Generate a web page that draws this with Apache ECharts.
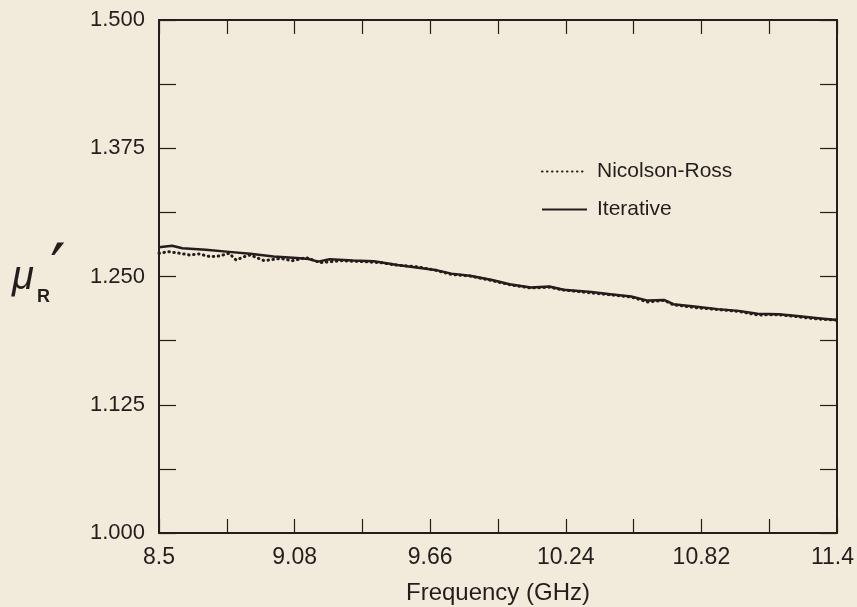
<!DOCTYPE html>
<html>
<head>
<meta charset="utf-8">
<script src="https://cdn.jsdelivr.net/npm/echarts@6/dist/echarts.min.js"></script>
<style>
html,body{margin:0;padding:0;background:#f2eadb;}
#chart{width:857px;height:607px;}
</style>
</head>
<body>
<div id="chart"></div>
<script>
// ---- data ----
var iterFreq = [8.50, 8.556, 8.60, 8.70, 8.80, 8.89, 8.99, 9.09, 9.14, 9.18, 9.23, 9.33, 9.42, 9.52, 9.60, 9.69, 9.75, 9.83, 9.92, 10.00, 10.09, 10.17, 10.23, 10.35, 10.43, 10.52, 10.59, 10.66, 10.70, 10.80, 10.89, 10.98, 11.06, 11.15, 11.23, 11.32, 11.40];
var iterValues = [1.2785, 1.2800, 1.2775, 1.2760, 1.2740, 1.2722, 1.2695, 1.2680, 1.2670, 1.2645, 1.2668, 1.2655, 1.2648, 1.2612, 1.2588, 1.2560, 1.2528, 1.2508, 1.2468, 1.2425, 1.2392, 1.2402, 1.2370, 1.2348, 1.2328, 1.2305, 1.2265, 1.2272, 1.2230, 1.2206, 1.2182, 1.2165, 1.2136, 1.2133, 1.2115, 1.2094, 1.2075];

var nrFreq = [8.50, 8.54, 8.59, 8.63, 8.67, 8.72, 8.76, 8.80, 8.83, 8.86, 8.89, 8.95, 9.02, 9.07, 9.13, 9.19, 9.28, 9.37, 9.45, 9.51, 9.60, 9.68, 9.75, 9.83, 9.92, 10.01, 10.09, 10.17, 10.23, 10.35, 10.43, 10.52, 10.59, 10.66, 10.70, 10.80, 10.89, 10.98, 11.06, 11.15, 11.23, 11.32, 11.40];
var nrValues = [1.2726, 1.2742, 1.2726, 1.2710, 1.2720, 1.2693, 1.2700, 1.2726, 1.2660, 1.2690, 1.2710, 1.2654, 1.2677, 1.2654, 1.2684, 1.2635, 1.2654, 1.2645, 1.2635, 1.2612, 1.2596, 1.2563, 1.2520, 1.2505, 1.2462, 1.2415, 1.2388, 1.2395, 1.2368, 1.2340, 1.2322, 1.2300, 1.2252, 1.2268, 1.2225, 1.2195, 1.2178, 1.2160, 1.2125, 1.2128, 1.2108, 1.2085, 1.2075];

var xTickLabels = [8.5, 9.08, 9.66, 10.24, 10.82, 11.4];
var xTickMarks = [8.5, 8.79, 9.08, 9.37, 9.66, 9.95, 10.24, 10.53, 10.82, 11.11, 11.4];
var yMin = 1.0, yMax = 1.5, yStep = 0.125;
var seriesNames = ['Nicolson-Ross', 'Iterative'];

// ---- chart ----
var ink = '#231e1b';
var font = 'Liberation Sans, Arial, Helvetica, sans-serif';
function pairs(xs, ys){ return xs.map(function(x,i){ return [x, ys[i]]; }); }

var chart = echarts.init(document.getElementById('chart'), null, {renderer:'canvas'});

var baseX = {
  type:'value', min:8.5, max:11.4,
  axisLine:{show:true, lineStyle:{color:ink, width:2}},
  axisTick:{show:true, inside:true, length:14, customValues:xTickMarks, lineStyle:{color:ink, width:1.2}},
  splitLine:{show:false}
};
var baseY = {
  type:'value', min:yMin, max:yMax, interval:yStep,
  axisLine:{show:true, lineStyle:{color:ink, width:2}},
  axisTick:{show:true, inside:true, length:17, lineStyle:{color:ink, width:1.2}},
  minorTick:{show:true, splitNumber:2, length:17, lineStyle:{color:ink, width:1.2}},
  splitLine:{show:false}, minorSplitLine:{show:false}
};

var lastX = xTickLabels[xTickLabels.length - 1];

var option = {
  backgroundColor:'#f2eadb',
  animation:false,
  grid:{left:159, right:20, top:20, bottom:74, containLabel:false, outerBoundsMode:'none'},
  xAxis:[
    Object.assign({}, baseX, {
      position:'bottom',
      axisLabel:{show:true, customValues:xTickLabels, margin:13, color:ink, fontSize:23, fontFamily:font,
        formatter:function(v){ return Math.abs(v - lastX) < 1e-9 ? '{e|' + v + '}' : String(v); },
        rich:{e:{fontSize:23, fontFamily:font, color:ink, padding:[0,9,0,0]}}},
      name:'Frequency (GHz)', nameLocation:'middle', nameGap:48,
      nameTextStyle:{color:ink, fontSize:24, fontFamily:font}
    }),
    Object.assign({}, baseX, {position:'top', axisLabel:{show:false}})
  ],
  yAxis:[
    Object.assign({}, baseY, {
      position:'left',
      axisLabel:{show:true, margin:14, color:ink, fontSize:22, fontFamily:font,
        formatter:function(v){ return v.toFixed(3); }}
    }),
    Object.assign({}, baseY, {position:'right', axisLabel:{show:false}})
  ],
  legend:{
    orient:'vertical', left:536, top:156, itemWidth:45, itemHeight:14, itemGap:17,
    data:seriesNames,
    itemStyle:{color:'rgba(0,0,0,0)', borderColor:'rgba(0,0,0,0)', borderWidth:0, opacity:0},
    textStyle:{color:ink, fontSize:21, fontFamily:font, padding:[0,0,0,5]}
  },
  series:[
    {
      name:seriesNames[0], type:'line', xAxisIndex:0, yAxisIndex:0,
      data:pairs(nrFreq, nrValues), symbol:'none', smooth:false,
      lineStyle:{color:ink, width:3, type:[0.5, 4.5], cap:'round'},
      itemStyle:{color:ink}, z:3
    },
    {
      name:seriesNames[1], type:'line', xAxisIndex:0, yAxisIndex:0,
      data:pairs(iterFreq, iterValues), symbol:'none', smooth:false,
      lineStyle:{color:ink, width:2.5, type:'solid'},
      itemStyle:{color:ink}, z:4
    }
  ],
  graphic:[
    {type:'text', left:12, top:258, style:{text:'μ', font:'italic 40px Liberation Sans, Arial, sans-serif', fill:ink}},
    {type:'text', left:37, top:288, style:{text:'R', font:'bold 18px Liberation Sans, Arial, sans-serif', fill:ink}},
    {type:'text', left:50, top:240, style:{text:'′', font:'70px DejaVu Sans, sans-serif', fill:ink}}
  ]
};
chart.setOption(option);
</script>
</body>
</html>
